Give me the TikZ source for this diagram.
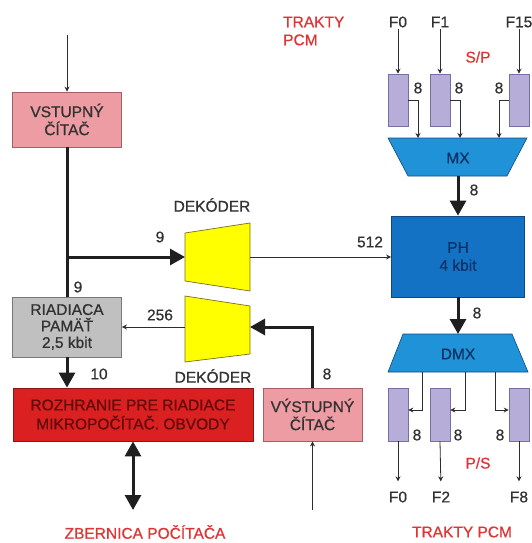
\documentclass[tikz,border=0pt]{standalone}
\usepackage{fontspec}
\setmainfont{Liberation Sans}[FakeBold=0.7]
\usetikzlibrary{arrows.meta}
\definecolor{txt}{RGB}{50,50,50}
\definecolor{redtxt}{RGB}{222,52,52}
\definecolor{pinkf}{RGB}{236,156,162}
\definecolor{pinkd}{RGB}{165,95,100}
\definecolor{grayf}{RGB}{192,192,192}
\definecolor{grayd}{RGB}{120,120,120}
\definecolor{redf}{RGB}{218,32,32}
\definecolor{redd}{RGB}{140,20,20}
\definecolor{redboxtxt}{RGB}{100,10,10}
\definecolor{yelf}{RGB}{255,255,0}
\definecolor{yeld}{RGB}{120,110,30}
\definecolor{bluef}{RGB}{32,146,216}
\definecolor{phf}{RGB}{20,114,196}
\definecolor{blued}{RGB}{20,70,130}
\definecolor{bluetxt}{RGB}{14,50,100}
\definecolor{lavf}{RGB}{182,174,216}
\definecolor{lavd}{RGB}{120,110,165}
\definecolor{linec}{RGB}{45,45,45}
\begin{document}
\begin{tikzpicture}[x=1pt,y=-1pt,
  lbl/.style={font=\fontsize{15.5}{18}\selectfont, text=txt, inner sep=1pt},
  redlbl/.style={lbl, text=redtxt},
  box/.style={draw, line width=0.8pt, align=center, inner sep=0pt, font=\fontsize{15.5}{18}\selectfont},
  pinkbox/.style={box, fill=pinkf, draw=pinkd, text=txt},
  graybox/.style={box, fill=grayf, draw=grayd, text=txt, font=\fontsize{15.5}{16.5}\selectfont},
  redbox/.style={box, fill=redf, draw=redd, text=redboxtxt, font=\fontsize{15.5}{19}\selectfont},
  phbox/.style={box, fill=phf, draw=blued, text=bluetxt},
  reg/.style={draw=lavd, fill=lavf, line width=0.6pt, minimum width=20pt, inner sep=0pt},
  dec/.style={fill=yelf, draw=yeld, line width=0.7pt},
  mux/.style={fill=bluef, draw=blued, line width=0.6pt},
  thinarr/.style={draw=linec, line width=0.8pt, -{Stealth[length=5pt,width=5pt]}},
  thickarr/.style={draw=black!88, line width=3pt, -{Triangle[length=15pt,width=16pt]}},
  thickln/.style={draw=black!88, line width=3pt},
]
\useasboundingbox (0,0) rectangle (531,543);

% ---------- left column boxes ----------
\node[pinkbox, minimum width=109pt, minimum height=55pt] (vc) at (67,119.5) {VSTUPNÝ\\ČÍTAČ};
\node[graybox, minimum width=109pt, minimum height=60pt] (rp) at (67,327) {RIADIACA\\PAMÄŤ\\2,5 kbit};
\node[redbox, minimum width=240pt, minimum height=53pt] (rozh) at (133,414.5) {ROZHRANIE PRE RIADIACE\\MIKROPOČÍTAČ. OBVODY};
\node[pinkbox, minimum width=99pt, minimum height=53pt] (vy) at (312.5,414.5) {VÝSTUPNÝ\\ČÍTAČ};

% ---------- decoders ----------
\filldraw[dec] (185,233) -- (250,223) -- (250,291) -- (185,281) -- cycle;
\filldraw[dec] (185,296) -- (250,306) -- (250,354) -- (185,362) -- cycle;
\coordinate (d1l) at (185,257);
\coordinate (d1r) at (250,257);
\coordinate (d2l) at (185,327);
\coordinate (d2r) at (250,327);
\node[lbl] (dek1) at (212,205) {DEKÓDER};
\node[lbl] (dek2) at (213,376) {DEKÓDER};

% ---------- right column ----------
\node[phbox, minimum width=133pt, minimum height=81pt] (ph) at (458,256.5) {PH\\4 kbit};

\filldraw[mux] (388,138) -- (527,138) -- (507,176) -- (408,176) -- cycle;
\node[lbl, text=bluetxt] (mx) at (458,158) {MX};
\filldraw[mux] (403,334) -- (512,334) -- (528,372) -- (388,372) -- cycle;
\node[lbl, text=bluetxt] (dmx) at (458,354) {DMX};
\coordinate (mxb) at (458,176);
\coordinate (dmxt) at (458,334);

% S/P registers
\node[reg, minimum height=52pt] (sp1) at (398,100) {};
\node[reg, minimum height=52pt] (sp2) at (440,100) {};
\node[reg, minimum height=52pt] (sp3) at (519,100) {};
% P/S registers
\node[reg, minimum height=53pt] (ps1) at (398,414.5) {};
\node[reg, minimum height=53pt] (ps2) at (440,414.5) {};
\node[reg, minimum height=53pt] (ps3) at (519,414.5) {};

% top labels
\node[redlbl, align=left, anchor=west] (tt) at (282,31) {TRAKTY\\PCM};
\node[lbl] (fi0) at (398,22) {F0};
\node[lbl] (fi1) at (440,22) {F1};
\node[lbl] (fi15) at (519,22) {F15};
\node[redlbl] (sp) at (478,57) {S/P};
\node[lbl] (s8a) at (418,88) {8};
\node[lbl] (s8b) at (459,88) {8};
\node[lbl] (s8c) at (499,88) {8};

% bottom labels
\node[lbl] (p8a) at (417,435) {8};
\node[lbl] (p8b) at (458,435) {8};
\node[lbl] (p8c) at (500,435) {8};
\node[redlbl] (ps) at (478,463) {P/S};
\node[lbl] (fo0) at (398,497) {F0};
\node[lbl] (fo2) at (441,497) {F2};
\node[lbl] (fo8) at (519,497) {F8};
\node[redlbl] (tb) at (462,532) {TRAKTY PCM};
\node[redlbl] (zb) at (145,532) {ZBERNICA POČÍTAČA};

% other number labels
\node[lbl] (n9a) at (160,237) {9};
\node[lbl] (n512) at (370,242) {512};
\node[lbl] (n256) at (160,315) {256};
\node[lbl] (n9b) at (78,287) {9};
\node[lbl] (n10) at (99,374) {10};
\node[lbl] (n8v) at (327,374) {8};
\node[lbl] (n8mx) at (474,190) {8};
\node[lbl] (n8ph) at (477,313) {8};

% ---------- connectors ----------
\coordinate (vin) at (67,35);
\draw[thinarr] (vin) -- (vc.north);
\draw[thickln] (vc.south) -- (rp.north);
\coordinate (br) at (67,257);
\draw[thickarr] (br) -- (d1l);
\draw[thinarr] (d1r) -- (ph.west |- d1r);
\draw[thickarr] (vy.north) |- (d2r);
\draw[thinarr] (d2l) -- (rp.east |- d2l);
\draw[thickarr] (rp.south) -- (rp.south |- rozh.north);
\coordinate (zbt) at (133,510);
\draw[thickln, {Triangle[length=15pt,width=16pt]}-{Triangle[length=15pt,width=16pt]}] (rozh.south) -- (zbt);
\coordinate (vyin) at (312.5,510);
\draw[thinarr] (vyin) -- (vy.south);

% inputs to S/P registers
\draw[thinarr] (fi0.south) -- (sp1.north);
\draw[thinarr] (fi1.south) -- (sp2.north);
\draw[thinarr] (fi15.south) -- (sp3.north);
% S/P registers to MX
\coordinate (mx1) at (418,138);
\coordinate (mx2) at (460,138);
\coordinate (mx3) at (499,138);
\draw[thinarr] (sp1.east) -| (mx1);
\draw[thinarr] (sp2.east) -| (mx2);
\draw[thinarr] (sp3.west) -| (mx3);
% MX -> PH -> DMX
\draw[thickarr] (mxb) -- (ph.north);
\draw[thickarr] (ph.south) -- (dmxt);
% DMX to P/S registers
\coordinate (do1) at (422,372);
\coordinate (do2) at (465,372);
\coordinate (do3) at (495,372);
\coordinate (drow) at (0,410);
\draw[thinarr] (do1) |- (ps1.east |- drow);
\draw[thinarr] (do2) |- (ps2.east |- drow);
\draw[thinarr] (do3) |- (ps3.west |- drow);
% P/S outputs
\draw[thinarr, shorten >=9pt] (ps1.south) -- (fo0.north);
\draw[thinarr, shorten >=9pt] (ps2.south) -- (fo2.north);
\draw[thinarr, shorten >=9pt] (ps3.south) -- (fo8.north);
\end{tikzpicture}
\end{document}
